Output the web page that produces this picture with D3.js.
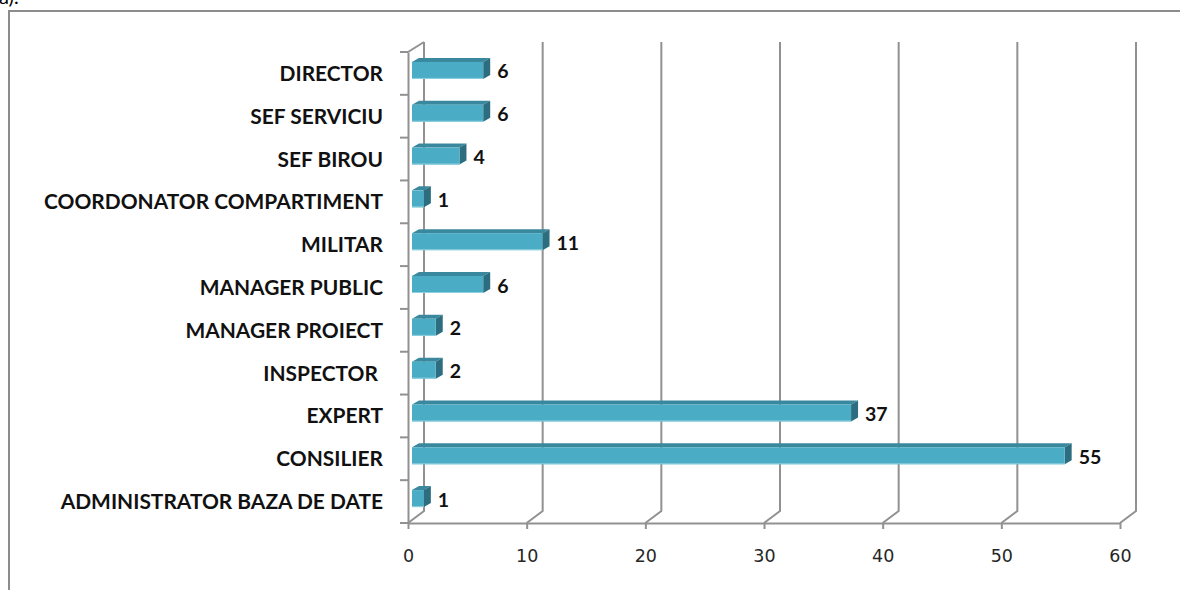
<!DOCTYPE html>
<html>
<head>
<meta charset="utf-8">
<script src="https://cdn.jsdelivr.net/npm/d3@7"></script>
<style>
  body { margin: 0; background: #fff; }
  svg { display: block; }
</style>
</head>
<body>
<div id="chart"></div>
<script>
var categories = [
    "DIRECTOR",
    "SEF SERVICIU",
    "SEF BIROU",
    "COORDONATOR COMPARTIMENT",
    "MILITAR",
    "MANAGER PUBLIC",
    "MANAGER PROIECT",
    "INSPECTOR ",
    "EXPERT",
    "CONSILIER",
    "ADMINISTRATOR BAZA DE DATE"
];
var values = [6, 6, 4, 1, 11, 6, 2, 2, 37, 55, 1];
var xTicks = [0, 10, 20, 30, 40, 50, 60];

var width = 1180;
var height = 590;

// 3d look: floor front edge, back wall offset, bar depth
var wall = { dx: 16, dy: -12 };
var barFront = { dx: 4, dy: -3 };
var barDepth = { dx: 7, dy: -4 };
var barHeight = 17;

var gridColour = '#919191';

var svg = d3.select('#chart')
    .append('svg')
    .attr('width', width)
    .attr('height', height);

// outer frame of the pasted chart (runs off the page right and bottom)
svg.append('rect')
    .attr('x', 9)
    .attr('y', 11)
    .attr('width', 1200)
    .attr('height', 620)
    .attr('fill', 'none')
    .attr('stroke', '#8c8c8c')
    .attr('stroke-width', 2);

svg.append('text')
    .attr('x', -1)
    .attr('y', 4)
    .attr('font-family', 'Lato, sans-serif')
    .attr('font-size', '20px')
    .text('a).');

var xScale = d3.scaleLinear()
    .domain([0, 60])
    .range([408, 1120]);

var yScale = d3.scaleBand()
    .domain(categories)
    .range([52, 523])
    .padding(0);

var floorY = yScale.range()[1];
var topY = yScale.range()[0];

var grid = svg.append('g').attr('class', 'grid');

// back wall vertical gridlines and floor diagonals
grid.selectAll('.vline')
    .data(xTicks)
    .enter()
    .append('path')
    .attr('class', 'vline')
    .attr('d', function(d) {
        var x0 = xScale(d);
        return 'M' + x0 + ',' + floorY +
            ' L' + (x0 + wall.dx) + ',' + (floorY + wall.dy) +
            ' L' + (x0 + wall.dx) + ',' + (topY + wall.dy + 2);
    })
    .attr('fill', 'none')
    .attr('stroke', gridColour)
    .attr('stroke-width', 2);

// left wall top diagonal
grid.append('path')
    .attr('d', 'M' + xScale(0) + ',' + topY + ' L' + (xScale(0) + wall.dx) + ',' + (topY + wall.dy + 2))
    .attr('fill', 'none')
    .attr('stroke', gridColour)
    .attr('stroke-width', 2);

// x axis (front edge of the floor)
var xAxis = d3.axisBottom(xScale)
    .tickValues(xTicks)
    .tickSize(6)
    .tickPadding(21)
    .tickSizeOuter(0);

var xg = svg.append('g')
    .attr('class', 'x axis')
    .attr('transform', 'translate(0,' + floorY + ')')
    .call(xAxis);

xg.select('.domain').attr('stroke', gridColour).attr('stroke-width', 2);
xg.selectAll('.tick line').attr('stroke', gridColour).attr('stroke-width', 2);
xg.selectAll('.tick text')
    .attr('font-family', '"DejaVu Sans", sans-serif')
    .attr('font-size', '17.5px')
    .attr('fill', '#262626');

// y axis (front left edge)
var yAxis = d3.axisLeft(yScale).tickSize(0).tickFormat('');
var yg = svg.append('g')
    .attr('class', 'y axis')
    .attr('transform', 'translate(' + xScale(0) + ',0)')
    .call(yAxis);
yg.select('.domain').attr('stroke', gridColour).attr('stroke-width', 2);

// ticks between categories
yg.selectAll('.cat-tick')
    .data(categories.concat(['end']))
    .enter()
    .append('line')
    .attr('class', 'cat-tick')
    .attr('x1', -8)
    .attr('x2', 0)
    .attr('y1', function(d, i) { return topY + i * yScale.bandwidth(); })
    .attr('y2', function(d, i) { return topY + i * yScale.bandwidth(); })
    .attr('stroke', gridColour)
    .attr('stroke-width', 2);

// category labels
var catLabels = svg.append('g')
    .attr('class', 'cat-labels')
    .selectAll('text')
    .data(categories)
    .enter()
    .append('text')
    .attr('x', 383)
    .attr('y', function(d) { return yScale(d) + yScale.bandwidth() / 2; })
    .attr('dy', '0.36em')
    .attr('text-anchor', 'end')
    .attr('font-family', 'Lato, sans-serif')
    .attr('font-weight', 'bold')
    .attr('font-size', '16px')
    .attr('fill', '#111')
    .style('white-space', 'pre')
    .text(function(d) { return d; });

// fit label size so the longest one spans like the reference
var longest = catLabels.filter(function(d) { return d === 'COORDONATOR COMPARTIMENT'; }).node();
var fitted = 16 * 339 / longest.getComputedTextLength();
catLabels.attr('font-size', fitted + 'px');

// bars
var data = categories.map(function(c, i) {
    return { name: c, value: values[i] };
});

var bars = svg.selectAll('.bar')
    .data(data)
    .enter()
    .append('g')
    .attr('class', 'bar');

function frontBox(d) {
    var x0 = xScale(0) + barFront.dx;
    var x1 = xScale(d.value) + barFront.dx;
    var yc = yScale(d.name) + yScale.bandwidth() / 2 + barFront.dy;
    return { x0: x0, x1: x1, y0: yc - barHeight / 2, y1: yc + barHeight / 2 };
}

// top face
bars.append('path')
    .attr('d', function(d) {
        var b = frontBox(d);
        return 'M' + b.x0 + ',' + b.y0 +
            ' L' + (b.x0 + barDepth.dx) + ',' + (b.y0 + barDepth.dy) +
            ' L' + (b.x1 + barDepth.dx) + ',' + (b.y0 + barDepth.dy) +
            ' L' + b.x1 + ',' + b.y0 + ' Z';
    })
    .attr('fill', '#3a889d');

// side face
bars.append('path')
    .attr('d', function(d) {
        var b = frontBox(d);
        return 'M' + b.x1 + ',' + b.y0 +
            ' L' + (b.x1 + barDepth.dx) + ',' + (b.y0 + barDepth.dy) +
            ' L' + (b.x1 + barDepth.dx) + ',' + (b.y1 + barDepth.dy) +
            ' L' + b.x1 + ',' + b.y1 + ' Z';
    })
    .attr('fill', '#2c6d7f');

// front face
bars.append('rect')
    .attr('x', function(d) { return frontBox(d).x0; })
    .attr('y', function(d) { return frontBox(d).y0; })
    .attr('width', function(d) { return frontBox(d).x1 - frontBox(d).x0; })
    .attr('height', barHeight)
    .attr('fill', '#4bacc6');

// light lower edge on the front face
bars.append('line')
    .attr('x1', function(d) { return frontBox(d).x0; })
    .attr('x2', function(d) { return frontBox(d).x1; })
    .attr('y1', function(d) { return frontBox(d).y1 - 0.5; })
    .attr('y2', function(d) { return frontBox(d).y1 - 0.5; })
    .attr('stroke', '#8fd0e0')
    .attr('stroke-width', 1);

// value labels
bars.append('text')
    .attr('x', function(d) { return frontBox(d).x1 + 14; })
    .attr('y', function(d) { return yScale(d.name) + yScale.bandwidth() / 2 - 2; })
    .attr('dy', '0.36em')
    .attr('font-family', 'Lato, sans-serif')
    .attr('font-weight', 'bold')
    .attr('font-size', '19.5px')
    .attr('fill', '#111')
    .text(function(d) { return d.value; });
</script>
</body>
</html>
